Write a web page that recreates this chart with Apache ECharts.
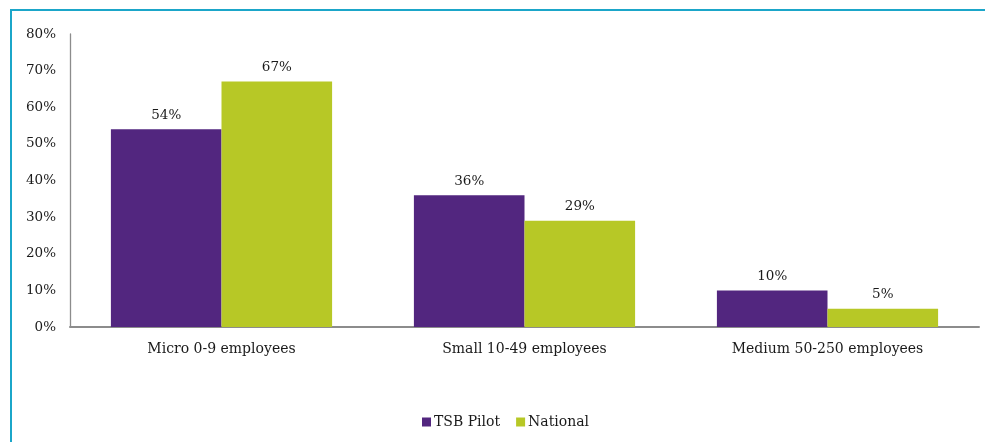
<!DOCTYPE html>
<html>
<head>
<meta charset="utf-8">
<script src="https://cdn.jsdelivr.net/npm/echarts@6/dist/echarts.min.js"></script>
<style>
  html, body { margin: 0; padding: 0; background: #ffffff; }
  #chart { width: 985px; height: 442px; }
</style>
</head>
<body>
<div id="chart"></div>
<script>
// Business size breakdown: share of businesses in each size band
const categories = ['Micro 0-9 employees', 'Small 10-49 employees', 'Medium 50-250 employees'];
const tsbPilot = [54, 36, 10];
const national = [67, 29, 5];
const seriesNames = ['TSB Pilot', 'National'];
const yTicks = { min: 0, max: 80, interval: 10 };

const FONT = '"DejaVu Serif", "Liberation Serif", serif';
const TEXT = '#1a1a1a';
const PURPLE = '#52267f';
const GREEN = '#b7c826';
const FRAME = '#1ba6c9';

const chart = echarts.init(document.getElementById('chart'), null, { renderer: 'canvas' });

const labelStyle = {
  show: true,
  position: 'top',
  distance: 7,
  color: TEXT,
  fontFamily: FONT,
  fontSize: 13.5,
  formatter: p => p.value + '%'
};

chart.setOption({
  animation: false,
  backgroundColor: '#ffffff',
  grid: { left: 70, right: 6, top: 34, bottom: 115, containLabel: false },
  legend: {
    data: seriesNames,
    top: 415,
    left: 422,
    padding: 0,
    itemWidth: 9,
    itemHeight: 9,
    itemGap: 16,
    icon: 'rect',
    textStyle: { fontFamily: FONT, fontSize: 14, color: TEXT, padding: [0, 0, 0, -2] }
  },
  xAxis: {
    type: 'category',
    data: categories,
    axisLine: { lineStyle: { color: '#8c8c8c', width: 2 } },
    axisTick: { show: false },
    axisLabel: { fontFamily: FONT, fontSize: 14, color: TEXT, margin: 15 }
  },
  yAxis: {
    type: 'value',
    min: yTicks.min,
    max: yTicks.max,
    interval: yTicks.interval,
    axisLine: { show: true, lineStyle: { color: '#8c8c8c', width: 1.3 } },
    axisTick: { show: false },
    splitLine: { show: false },
    axisLabel: { fontFamily: FONT, fontSize: 13.5, color: TEXT, margin: 14, formatter: '{value}%' }
  },
  series: [
    {
      name: seriesNames[0],
      type: 'bar',
      data: tsbPilot,
      barGap: '0%',
      barCategoryGap: '27%',
      itemStyle: { color: PURPLE },
      label: labelStyle
    },
    {
      name: seriesNames[1],
      type: 'bar',
      data: national,
      barGap: '0%',
      barCategoryGap: '27%',
      itemStyle: { color: GREEN },
      label: labelStyle
    }
  ],
  graphic: [
    {
      type: 'polyline',
      silent: true,
      shape: { points: [[11, 442], [11, 10], [985, 10]] },
      style: { stroke: FRAME, lineWidth: 2, fill: null }
    }
  ]
});
</script>
</body>
</html>
